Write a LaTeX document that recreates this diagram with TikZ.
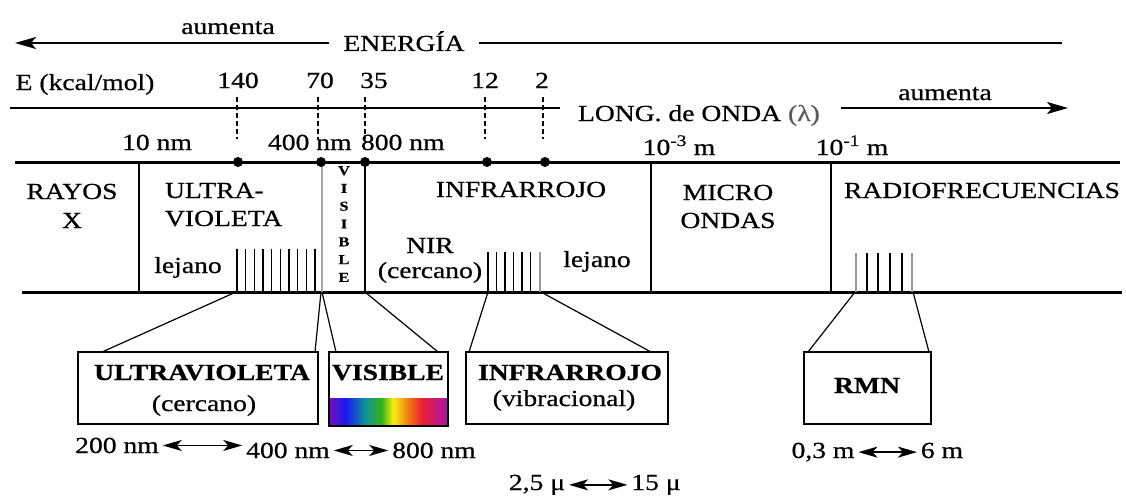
\documentclass[tikz,border=0pt]{standalone}
\usepackage{fontspec}
\setmainfont{Liberation Serif}[FakeStretch=1.2, FakeBold=0.6]
\usetikzlibrary{arrows.meta}
\definecolor{rbviolet}{HTML}{7A10B0}
\definecolor{rbblue}{HTML}{1818F0}
\definecolor{rbteal}{HTML}{1090A0}
\definecolor{rbgreen}{HTML}{30B020}
\definecolor{rbyellow}{HTML}{F4F010}
\definecolor{rborange}{HTML}{F08010}
\definecolor{rbred}{HTML}{E82030}
\definecolor{rbmagenta}{HTML}{B010B0}
\pgfdeclarehorizontalshading{rainbow}{100bp}{color(0bp)=(rbviolet); color(25bp)=(rbviolet); color(32bp)=(rbblue); color(40bp)=(rbteal); color(47bp)=(rbgreen); color(52bp)=(rbyellow); color(58bp)=(rborange); color(64bp)=(rbred); color(75bp)=(rbmagenta); color(100bp)=(rbmagenta)}
\tikzset{
  lbl/.style={font=\fontsize{23}{27}\selectfont, inner sep=0pt, outer sep=0pt, anchor=base},
  blbl/.style={lbl, font=\fontsize{23}{27}\selectfont\bfseries},
  band/.style={line width=3pt},
  sep/.style={line width=1.8pt},
  dsh/.style={line width=1.5pt, dash pattern=on 5pt off 3pt},
  comb/.style={line width=1.3pt},
  combgray/.style={line width=1.3pt, black!40},
  conn/.style={line width=1.2pt},
  bxs/.style={draw, line width=1.8pt, inner sep=0pt, outer sep=0pt},
  tip/.style={-{Stealth[length=21pt,width=12pt,inset=5pt]}, line width=1.6pt},
  dbl/.style={{Stealth[length=19pt,width=11pt,inset=5pt]}-{Stealth[length=19pt,width=11pt,inset=5pt]}, line width=1.5pt},
  endlbl/.style={lbl, inner xsep=4pt}
}
\begin{document}
\begin{tikzpicture}
\begin{scope}[x=1pt,y=-1pt]
\useasboundingbox (0,0) rectangle (1126,495);
\fill[white] (0,0) rectangle (1126,495);

% ---- energy arrow ----
\coordinate (eL) at (15,43);
\coordinate (eR) at (1062,43);
\node[lbl, inner xsep=14pt] (energia) at (404,51) {ENERGÍA};
\draw[tip] (eL -| energia.west) -- (eL);
\draw[line width=1.6pt] (eR -| energia.east) -- (eR);
\node[lbl] (aumL) at (228,34) {aumenta};

% ---- energy values ----
\node[lbl] (ekcal) at (85,90) {E (kcal/mol)};
\node[lbl] (n140) at (238,88) {140};
\node[lbl] (n70) at (320,88) {70};
\node[lbl] (n35) at (374,88) {35};
\node[lbl] (n12) at (485,88) {12};
\node[lbl] (n2) at (542,88) {2};
\foreach \x in {237,318,365,485,543} \draw[dsh] (\x,97) -- (\x,139);

% ---- wavelength axis ----
\coordinate (wL) at (10,108);
\coordinate (wR) at (560,108);
\draw[line width=1.4pt] (wL) -- (wR);
\node[lbl, anchor=base west] (lambda) at (578,121) {LONG. de ONDA {\color{black!65}(λ)}};
\coordinate (aR1) at (841,108);
\coordinate (aR2) at (1068,108);
\draw[tip] (aR1) -- (aR2);
\node[lbl] (aumR) at (945,100) {aumenta};

\node[lbl] (w10) at (157,150) {10 nm};
\node[lbl, anchor=base west] (w400) at (268,150) {400 nm};
\node[lbl, anchor=base west] (w800) at (361,150) {800 nm};
\node[lbl] (wm3) at (679,155) {10\textsuperscript{-3} m};
\node[lbl] (wm1) at (852,155) {10\textsuperscript{-1} m};

% ---- band ----
\draw[band] (15,162) -- (1120,162);
\draw[band] (22,292) -- (1122,292);
\draw[sep] (139,162) -- (139,292);
\draw[line width=2pt, black!35] (322,162) -- (322,292);
\draw[sep] (365,162) -- (365,292);
\draw[sep] (651,162) -- (651,292);
\draw[sep] (831,162) -- (831,292);
\foreach \x in {238,321,365,487,545} \fill (\x,162) circle (5pt);

% band labels
\node[lbl] (rayos) at (72,199) {RAYOS};
\node[lbl] (rayosx) at (72,228) {X};
\node[lbl, anchor=base west] (ultra) at (165,198) {ULTRA-};
\node[lbl, anchor=base west] (violeta) at (165,226) {VIOLETA};
\node[lbl] (lejuv) at (188,273) {lejano};
\node[font=\fontsize{13.5}{17.8}\selectfont\bfseries, align=center, anchor=north, inner sep=0pt] (vislbl) at (344,166) {V\\I\\S\\I\\B\\L\\E};
\node[lbl] (infra) at (521,197) {INFRARROJO};
\node[lbl] (nir) at (430,253) {NIR};
\node[lbl] (nircer) at (430,278) {(cercano)};
\node[lbl] (lejir) at (597,267) {lejano};
\node[lbl] (micro) at (728,200) {MICRO};
\node[lbl] (ondas) at (728,228) {ONDAS};
\node[lbl] (radio) at (982,198) {RADIOFRECUENCIAS};

% combs
\foreach \i in {0,...,9} \draw[comb] ({237+8.67*\i},249) -- ({237+8.67*\i},292);
\foreach \i in {0,...,5} \draw[comb] ({488+8.5*\i},252) -- ({488+8.5*\i},292);
\draw[combgray] (540,252) -- (540,292);
\draw[combgray] (856,253) -- (856,292);
\foreach \x in {867,878,890,902} \draw[comb] (\x,253) -- (\x,292);
\draw[combgray] (912,253) -- (912,292);

% ---- zoom boxes ----
\node[bxs, minimum width=240pt, minimum height=72pt] (uvbox) at (198,388) {};
\shade[shading=rainbow] (329,398) rectangle (448,426);
\node[bxs, minimum width=119pt, minimum height=74pt] (visbox) at (388.5,389) {};
\node[bxs, minimum width=202pt, minimum height=72pt] (irbox) at (567,388) {};
\node[bxs, minimum width=127pt, minimum height=72pt] (rmnbox) at (867.5,388) {};

\node[blbl] (tuv) at (202,380) {ULTRAVIOLETA};
\node[lbl] (tuvc) at (204,411) {(cercano)};
\node[blbl] (tvis) at (388,380) {VISIBLE};
\node[blbl] (tir) at (570,380) {INFRARROJO};
\node[lbl] (tirv) at (564,406) {(vibracional)};
\node[blbl] (trmn) at (867,393) {RMN};

% connectors from combs to boxes
\coordinate (uvA) at (236,292);
\coordinate (uvB) at (321,292);
\coordinate (visA) at (322,292);
\coordinate (visB) at (365,292);
\coordinate (irA) at (488,292);
\coordinate (irB) at (541,292);
\coordinate (rmA) at (855,292);
\coordinate (rmB) at (913,292);
\draw[conn] (uvA) -- ([xshift=24pt]uvbox.north west);
\draw[conn] (uvB) -- ([xshift=-3pt]uvbox.north east);
\draw[conn] (visA) -- ([xshift=7pt]visbox.north west);
\draw[conn] (visB) -- ([xshift=-10pt]visbox.north east);
\draw[conn] (irA) -- ([xshift=3pt]irbox.north west);
\draw[conn] (irB) -- ([xshift=-17pt]irbox.north east);
\draw[conn] (rmA) -- ([xshift=4pt]rmnbox.north west);
\draw[conn] (rmB) -- ([xshift=-2pt]rmnbox.north east);

% ---- ranges ----
\node[endlbl] (r200) at (117,453) {200 nm};
\node[endlbl] (r400) at (288,458) {400 nm};
\node[endlbl] (r800) at (434,458) {800 nm};
\draw[dbl] (r200.east) -- (r200.east -| r400.west);
\draw[dbl] (r400.east) -- (r400.east -| r800.west);
\node[endlbl] (r25) at (537,490) {2,5 μ};
\node[endlbl] (r15) at (656,490) {15 μ};
\draw[dbl] (r25.east) -- (r25.east -| r15.west);
\node[endlbl] (r03) at (823,458) {0,3 m};
\node[endlbl] (r6) at (942,458) {6 m};
\draw[dbl] (r03.east) -- (r03.east -| r6.west);
\end{scope}
\end{tikzpicture}
\end{document}
